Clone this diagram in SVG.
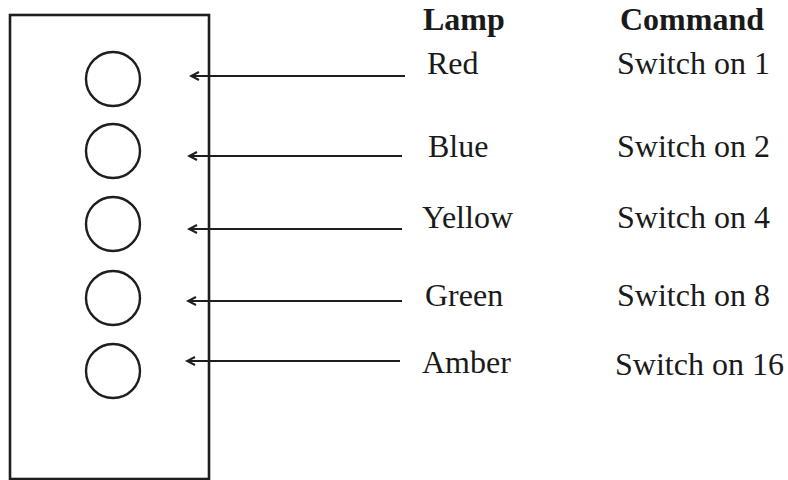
<svg xmlns="http://www.w3.org/2000/svg" width="788" height="480" viewBox="0 0 788 480">
<style>
.ln{stroke:#1e1e1e;stroke-width:2.2;fill:none}
.lamp{stroke:#1e1e1e;stroke-width:2.4;fill:none}
.t{font-family:"Liberation Serif","Times New Roman",serif;font-size:32px;fill:#1a1a1a}
.h{font-weight:bold}
</style>
<defs>
<marker id="ah" markerWidth="12" markerHeight="12" refX="10" refY="6" orient="auto" markerUnits="userSpaceOnUse">
<path d="M2,2 L10,6 L2,10" fill="none" stroke="#1e1e1e" stroke-width="2"/>
</marker>
</defs>
<rect width="788" height="480" fill="#fff"/>
<g id="panel">
<rect x="10" y="15" width="199" height="464" fill="none" stroke="#1e1e1e" stroke-width="2.6"/>
</g>
<g id="lamp-red"><circle class="lamp" cx="113" cy="79" r="27"/></g>
<g id="lamp-blue"><circle class="lamp" cx="113" cy="151" r="27"/></g>
<g id="lamp-yellow"><circle class="lamp" cx="113" cy="224" r="27"/></g>
<g id="lamp-green"><circle class="lamp" cx="113" cy="298" r="27"/></g>
<g id="lamp-amber"><circle class="lamp" cx="113" cy="371" r="27"/></g>
<g id="connectors">
<line class="ln" x1="405" y1="76" x2="191" y2="76" marker-end="url(#ah)"/>
<line class="ln" x1="402" y1="156" x2="189" y2="156" marker-end="url(#ah)"/>
<line class="ln" x1="402" y1="229" x2="189" y2="229" marker-end="url(#ah)"/>
<line class="ln" x1="402" y1="301" x2="188" y2="301" marker-end="url(#ah)"/>
<line class="ln" x1="400" y1="361" x2="187" y2="361" marker-end="url(#ah)"/>
</g>
<g id="headers">
<text class="t h" x="423" y="30">Lamp</text>
<text class="t h" x="620" y="30">Command</text>
</g>
<g id="row-red">
<text class="t" x="427" y="74">Red</text>
<text class="t" x="617" y="74">Switch on 1</text>
</g>
<g id="row-blue">
<text class="t" x="428" y="157">Blue</text>
<text class="t" x="617" y="157">Switch on 2</text>
</g>
<g id="row-yellow">
<text class="t" x="422" y="228">Yellow</text>
<text class="t" x="617" y="228">Switch on 4</text>
</g>
<g id="row-green">
<text class="t" x="425" y="306">Green</text>
<text class="t" x="617" y="306">Switch on 8</text>
</g>
<g id="row-amber">
<text class="t" x="422" y="373">Amber</text>
<text class="t" x="615" y="375">Switch on 16</text>
</g>
</svg>
